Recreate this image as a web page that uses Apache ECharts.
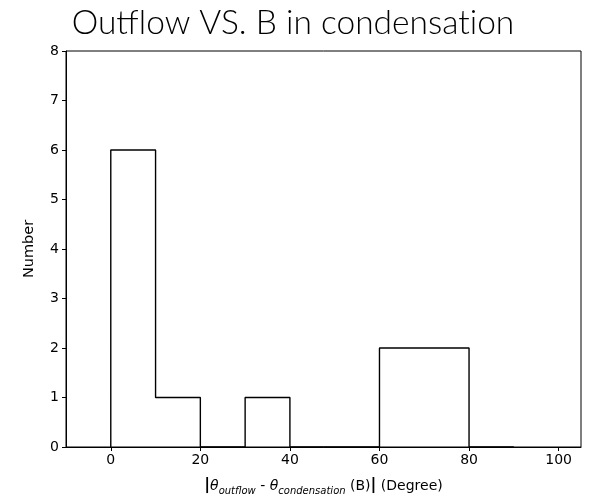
<!DOCTYPE html>
<html>
<head>
<meta charset="utf-8">
<script src="https://cdn.jsdelivr.net/npm/echarts@6/dist/echarts.min.js"></script>
<style>
  html, body { margin: 0; padding: 0; background: #fff; }
  #chart { width: 599px; height: 497px; }
</style>
</head>
<body>
<div id="chart"></div>
<script>
// Histogram of angle differences, 10-degree bins
const binEdges = [0, 10, 20, 30, 40, 50, 60, 70, 80, 90];
const counts = [6, 1, 0, 1, 0, 0, 2, 2, 0];
const xTicks = [0, 20, 40, 60, 80, 100];

// Step outline in the style of histtype='step' (open along the baseline)
const stepPts = [[binEdges[0], 0]];
for (let i = 0; i < counts.length; i++) {
  stepPts.push([binEdges[i], counts[i]]);
  stepPts.push([binEdges[i + 1], counts[i]]);
}
stepPts.push([binEdges[binEdges.length - 1], 0]);

const chart = echarts.init(document.getElementById('chart'), null, { renderer: 'canvas' });
const tickFont = { fontFamily: 'DejaVu Sans', fontSize: 14, color: '#000' };
const titleFont = { fontFamily: 'Lato', fontWeight: 300, fontSize: 33.5, color: '#000' };

chart.setOption({
  animation: false,
  backgroundColor: '#fff',
  title: {
    // drawn in separate runs so "fl" and "ti" stay as plain letters
    text: '{a|Outf}{a|low VS. B in condensat}{a|ion}',
    left: 288, top: 1, textAlign: 'center',
    textStyle: { ...titleFont, rich: { a: titleFont } }
  },
  grid: {
    left: 66, right: 18, top: 51, bottom: 50,
    outerBoundsMode: 'none', containLabel: false,
    show: true, borderColor: '#000', borderWidth: 1, backgroundColor: 'transparent'
  },
  xAxis: {
    type: 'value', min: -10, max: 105,
    splitLine: { show: false },
    axisLine: { onZero: false, lineStyle: { color: '#000', width: 1 } },
    axisTick: { show: true, customValues: xTicks, length: 4, lineStyle: { color: '#000' } },
    axisLabel: { customValues: xTicks, margin: 6, ...tickFont },
    name: '{b||}{t|θ}{s|outflow}{n| - }{t|θ}{s|condensation}{n| (B)}{b||}{n| (Degree)}',
    nameLocation: 'middle', nameGap: 28,
    nameTextStyle: {
      rich: {
        n: { fontFamily: 'DejaVu Sans', fontSize: 14, color: '#000', verticalAlign: 'bottom', lineHeight: 17 },
        b: { fontFamily: 'DejaVu Sans', fontSize: 16, fontWeight: 'bold', color: '#000', verticalAlign: 'bottom', lineHeight: 18 },
        t: { fontFamily: 'DejaVu Sans', fontStyle: 'italic', fontSize: 14, color: '#000', verticalAlign: 'bottom', lineHeight: 17 },
        s: { fontFamily: 'DejaVu Sans', fontStyle: 'italic', fontSize: 10, color: '#000', verticalAlign: 'bottom', lineHeight: 12, padding: [0, 0, -3, 0] }
      }
    }
  },
  yAxis: {
    type: 'value', min: 0, max: 8, interval: 1,
    splitLine: { show: false },
    axisLine: { show: true, onZero: false, lineStyle: { color: '#000', width: 1 } },
    axisTick: { show: true, length: 4, lineStyle: { color: '#000' } },
    axisLabel: { margin: 7, ...tickFont },
    name: 'Number', nameLocation: 'middle', nameGap: 29,
    nameTextStyle: { fontFamily: 'DejaVu Sans', fontSize: 14.5, color: '#000' }
  },
  series: [{
    type: 'line',
    data: stepPts,
    symbol: 'none',
    lineStyle: { color: '#000', width: 1.4 },
    z: 5
  }]
});
</script>
</body>
</html>
